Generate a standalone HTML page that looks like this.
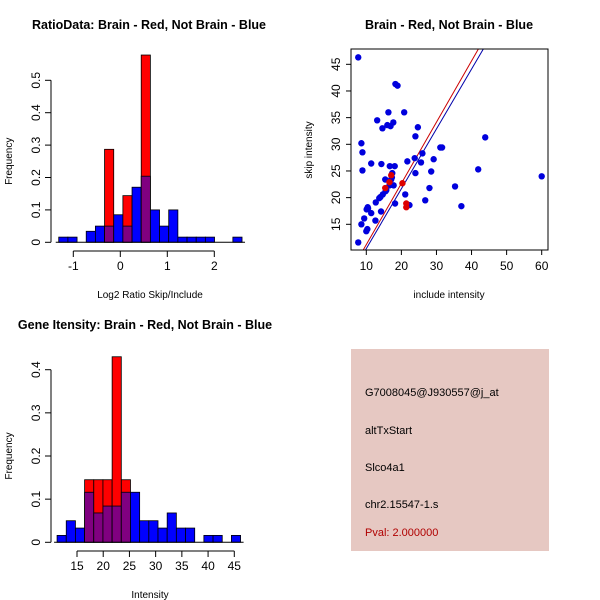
<!DOCTYPE html>
<html><head><meta charset="utf-8"><style>
html,body{margin:0;padding:0;background:#fff}
svg{display:block;font-family:"Liberation Sans",Arial,sans-serif}
</style></head><body>
<svg id="c" width="600" height="600" viewBox="0 0 600 600" xmlns="http://www.w3.org/2000/svg">
<rect width="600" height="600" fill="#fff"/>
<g id="p1"></g>
<g id="p2"></g>
<g id="p3"></g>
<g id="p4">
<rect x="351" y="349" width="198" height="202" fill="#e6c8c2"/>
<text x="365" y="396" font-size="11">G7008045@J930557@j_at</text>
<text x="365" y="434" font-size="11">altTxStart</text>
<text x="365" y="471" font-size="11">Slco4a1</text>
<text x="365" y="508" font-size="11">chr2.15547-1.s</text>
<text x="365" y="536" font-size="11" fill="#b00000">Pval: 2.000000</text>
</g>
</svg>
<script>
// ---- Data: ratio histogram ----
const ratioBreakStart = -1.31;
const ratioBinWidth = 0.195;
const ratioBlue = [0.016,0.016,0,0.034,0.05,0.05,0.085,0.05,0.17,0.204,0.1,0.05,0.1,0.016,0.016,0.016,0.016,0,0,0.016];
const ratioRed  = [0,0,0,0,0,0.287,0,0.144,0,0.578,0,0,0,0,0,0,0,0,0,0];
const ratioXTicks = [-1,0,1,2];
const ratioYTicks = [0,0.1,0.2,0.3,0.4,0.5];
// ---- Data: intensity histogram ----
const intBreakStart = 11.2;
const intBinWidth = 1.75;
const intBlue = [0.016,0.05,0.033,0.116,0.068,0.084,0.084,0.116,0.116,0.05,0.05,0.033,0.068,0.033,0.033,0,0.016,0.016,0,0.016];
const intRed  = [0,0,0,0.145,0.145,0.145,0.43,0.145,0,0,0,0,0,0,0,0,0,0,0,0];
const intXTicks = [15,20,25,30,35,40,45];
const intYTicks = [0,0.1,0.2,0.3,0.4];
// ---- Data: scatter ----
const blueX = [7.7,18.9,18.3,13.1,16.3,20.8,14.6,16,16.9,17.7,24.7,24,43.9,8.6,8.9,31.1,31.6,26,23.8,29.2,21.7,25.6,11.4,14.3,16.7,18.1,8.9,41.9,60,28.5,17.4,24,17.3,17.1,15.4,35.3,16.6,17.8,15.7,15.5,28,14.7,21.1,13.7,14,12.7,26.8,37.1,18.2,22.3,10.4,10.1,10.5,14.2,11.4,9.4,12.6,8.6,10.3,10,7.7];
const blueY = [46.3,41.0,41.3,34.5,36.0,36.0,33.0,33.6,33.4,34.1,33.2,31.5,31.3,30.2,28.5,29.4,29.4,28.3,27.4,27.2,26.8,26.6,26.4,26.3,25.9,25.9,25.1,25.3,24.0,24.9,24.6,24.6,23.8,23.4,23.4,22.1,22.3,22.3,21.4,21.2,21.8,20.6,20.6,19.9,20.1,19.1,19.5,18.4,18.9,18.6,18.2,17.8,18.0,17.4,17.1,16.1,15.7,15.0,14.1,13.7,11.6];
const redX = [15.4,16.6,17.1,20.3,21.4,21.4];
const redY = [21.8,22.9,24.2,22.7,18.9,18.2];
const fitRed = [-0.29,1.148];   // intercept, slope
const fitBlue = [-0.78,1.122];
const scatXTicks = [10,20,30,40,50,60];
const scatYTicks = [15,20,25,30,35,40,45];

const NS='http://www.w3.org/2000/svg';
function mk(parent,tag,attrs){const e=document.createElementNS(NS,tag);for(const k in attrs)e.setAttribute(k,attrs[k]);parent.appendChild(e);return e;}
function txt(parent,x,y,s,size,extra){const t=mk(parent,'text',Object.assign({x:x,y:y,'font-size':size,'text-anchor':'middle'},extra||{}));t.textContent=s;return t;}

function histogram(g,o){
  const sx=v=>o.x0px+(v-o.x0)*o.kx, sy=v=>o.y0px-v*o.ky;
  for(let i=0;i<o.blue.length;i++){
    const a=o.start+i*o.w,b=a+o.w,bv=o.blue[i],rv=o.red[i];
    if(rv>0){const r=mk(g,'rect',{x:sx(a),y:sy(rv),width:sx(b)-sx(a),height:sy(0)-sy(rv),fill:'#ff0000',stroke:'#000','stroke-width':0.8});
      
      }
    if(bv>0){const h=rv>0?Math.min(bv,rv):bv;const fill=rv>0?'#800080':'#0000ff';const r=mk(g,'rect',{x:sx(a),y:sy(h),width:sx(b)-sx(a),height:sy(0)-sy(h),fill:fill,stroke:'#000','stroke-width':0.8});
      
      }
  }
  mk(g,'line',{x1:sx(o.start)-3,x2:sx(o.start+o.blue.length*o.w)+3,y1:sy(0),y2:sy(0),stroke:'#000'});
  const ya=mk(g,'g',{});
  
  
  mk(ya,'line',{x1:51,x2:51,y1:sy(o.yt[0]),y2:sy(o.yt[o.yt.length-1]),stroke:'#000'});
  o.yt.forEach(v=>{mk(ya,'line',{x1:45,x2:51,y1:sy(v),y2:sy(v),stroke:'#000'});
    txt(ya,0,0,String(v),12,{transform:`translate(40,${sy(v)}) rotate(-90)`});});
  const xa=mk(g,'g',{});
  
  
  mk(xa,'line',{x1:sx(o.xt[0]),x2:sx(o.xt[o.xt.length-1]),y1:o.axY,y2:o.axY,stroke:'#000'});
  o.xt.forEach(v=>{mk(xa,'line',{x1:sx(v),x2:sx(v),y1:o.axY,y2:o.axY+6,stroke:'#000'});txt(xa,sx(v),o.axY+19,String(v),12);});
  const yl=txt(g,0,0,'Frequency',10,{transform:`translate(12,${(sy(0)+sy(o.yt[o.yt.length-1]))/2}) rotate(-90)`});
  
  
  const xl=txt(g,o.xlabX,o.xlabY,o.xlab,10);
  
  
  const ti=txt(g,o.titleX,o.titleY,o.title,12.5,{'font-weight':'bold'});
  
  
}
histogram(document.getElementById('p1'),{blue:ratioBlue,red:ratioRed,start:ratioBreakStart,w:ratioBinWidth,x0:0,x0px:120.3,kx:47,y0px:242.3,ky:324,xt:ratioXTicks,yt:ratioYTicks,axY:251,xlab:'Log2 Ratio Skip/Include',xlabX:150,xlabY:298,title:'RatioData: Brain - Red, Not Brain - Blue',titleX:149,titleY:29});
histogram(document.getElementById('p3'),{blue:intBlue,red:intRed,start:intBreakStart,w:intBinWidth,x0:15,x0px:77,kx:5.243,y0px:542.3,ky:431.5,xt:intXTicks,yt:intYTicks,axY:551,xlab:'Intensity',xlabX:150,xlabY:598,title:'Gene Itensity: Brain - Red, Not Brain - Blue',titleX:145,titleY:329});

(function(){
  const g=document.getElementById('p2');
  const L=351,R=548,T=49,B=250;
  const sx=v=>366.3+(v-10)*3.508, sy=v=>224.3-(v-15)*5.333;
  const cp=mk(g,'clipPath',{id:'clipS'});mk(cp,'rect',{x:L,y:T,width:R-L,height:B-T});
  const fits=[[fitRed,'#cc0000','fit-line-brain'],[fitBlue,'#0000aa','fit-line-not-brain']];
  fits.forEach(f=>{const x1=5,x2=62;const l=mk(g,'line',{x1:sx(x1),x2:sx(x2),y1:sy(f[0][0]+f[0][1]*x1),y2:sy(f[0][0]+f[0][1]*x2),stroke:f[1],'stroke-width':1,'clip-path':'url(#clipS)'});
    
    });
  for(let i=0;i<blueX.length;i++){const c=mk(g,'circle',{cx:sx(blueX[i]),cy:sy(blueY[i]),r:3.2,fill:'#0000dd'});
    
    }
  for(let i=0;i<redX.length;i++){const c=mk(g,'circle',{cx:sx(redX[i]),cy:sy(redY[i]),r:3.2,fill:'#dd0000'});
    
    }
  const box=mk(g,'rect',{x:L,y:T,width:R-L,height:B-T,fill:'none',stroke:'#000'});
  
  
  const xa=mk(g,'g',{});
  
  
  scatXTicks.forEach(v=>{mk(xa,'line',{x1:sx(v),x2:sx(v),y1:B,y2:B+5,stroke:'#000'});txt(xa,sx(v),B+20,String(v),12);});
  const ya=mk(g,'g',{});
  
  
  scatYTicks.forEach(v=>{mk(ya,'line',{x1:L-5,x2:L,y1:sy(v),y2:sy(v),stroke:'#000'});txt(ya,0,0,String(v),12,{transform:`translate(340,${sy(v)}) rotate(-90)`});});
  const xl=txt(g,449,298,'include intensity',10);
  
  
  const yl=txt(g,0,0,'skip intensity',10,{transform:'translate(312,150) rotate(-90)'});
  
  
  const ti=txt(g,449,29,'Brain - Red, Not Brain - Blue',12.5,{'font-weight':'bold'});
  
  
})();
</script>
</body></html>
